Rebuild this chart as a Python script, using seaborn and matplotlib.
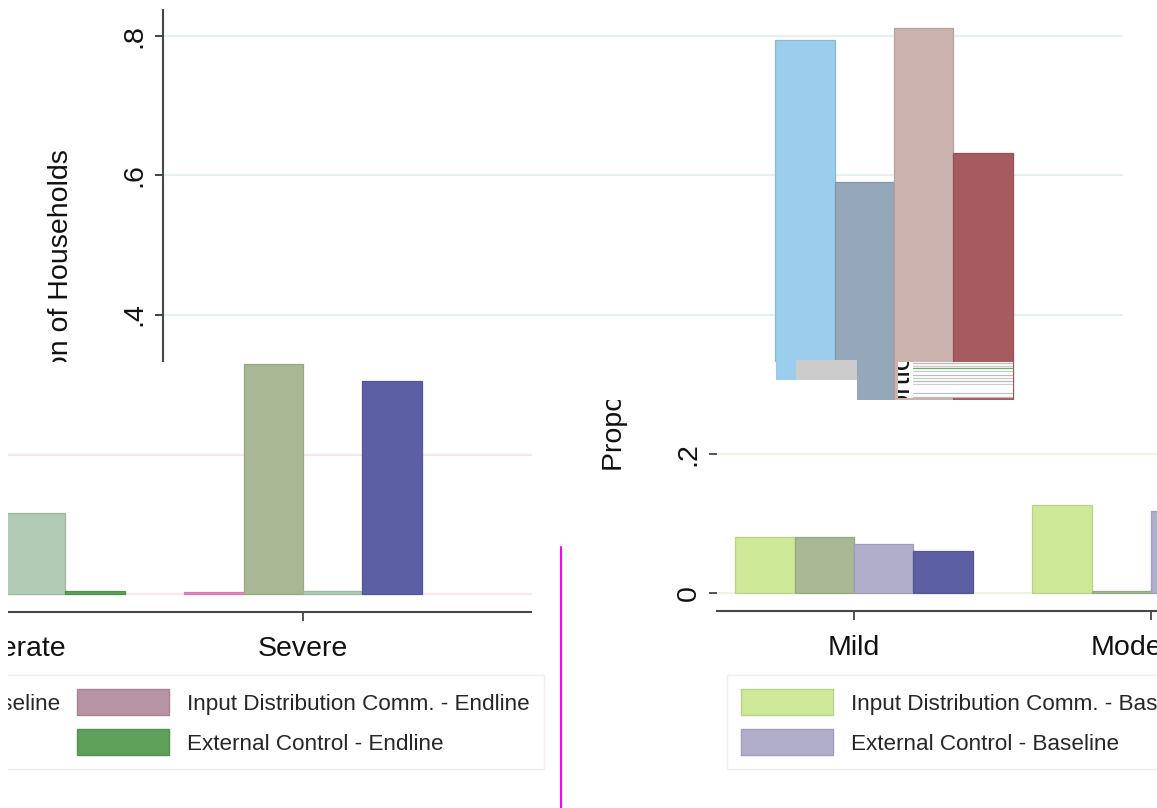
import numpy as np
import pandas as pd
import seaborn as sns
import matplotlib
matplotlib.use("Agg")
import matplotlib.pyplot as plt
import matplotlib.colors as mcolors
from matplotlib.path import Path
from matplotlib.transforms import Affine2D, Bbox, TransformedBbox
from matplotlib.patches import Patch, Rectangle
from matplotlib.lines import Line2D
from matplotlib.text import Text

sns.set_theme(style="white")
plt.rcParams["font.family"] = ["Liberation Sans", "DejaVu Sans"]

# ---------------------------------------------------------------- data
categories = ["Mild", "Moderate", "Severe"]
groups = [
    "Input Distribution Comm. - Baseline",
    "Input Distribution Comm. - Endline",
    "External Control - Baseline",
    "External Control - Endline",
]
ytick_values = [0, 0.2, 0.4, 0.6, 0.8]
ytick_labels = ["0", ".2", ".4", ".6", ".8"]
y_title = "Proportion of Households"

# upper strip
upper_cats = ["Severe", "Severe", "Severe", "Severe"]
upper_groups = groups
upper_values = [0.794, 0.590, 0.811, 0.632]
upper_palette = ["#9BCDEC", "#94A8B9", "#CBB3AF", "#A65B60"]

# lower-left strip
left_cats = ["Moderate", "Moderate", "Severe", "Severe", "Severe", "Severe"]
left_groups = [groups[2], groups[3], groups[0], groups[1], groups[2], groups[3]]
left_values = [0.117, 0.004, 0.003, 0.330, 0.004, 0.306]
left_palette = ["#EE8AC6", "#A8B894", "#B1CBB4", "#5C5FA3"]
left_legend_palette = ["#CDE997", "#B893A3", "#B1AECB", "#5FA05A"]

# lower-right strip
right_cats = ["Mild", "Mild", "Mild", "Mild", "Moderate", "Moderate", "Moderate"]
right_groups = groups + groups[:3]
right_values = [0.080, 0.081, 0.071, 0.061, 0.127, 0.003, 0.118]
right_palette = ["#CDE997", "#A8B894", "#B1AECB", "#5C5FA3"]
right_legend_palette = ["#CDE997", "#A8B894", "#B1AECB", "#5C5FA3"]

# ---------------------------------------------------------------- layout
W, H = 1157, 808
fig = plt.figure(figsize=(W / 100, H / 100), dpi=100)
fig.patch.set_facecolor("white")

# pixel (origin top-left) -> display
pix = Affine2D().scale(1 / W, -1 / H).translate(0, 1) + fig.transFigure

PLOT_W, PLOT_H = 959, 601       # plot region in pixels
CAT_STEP = 297                  # pixels between category centres
LEFT_OFF, RIGHT_OFF = 137, 228  # first/last category distance to plot edges
UNIT = 695                      # pixels per 1.0 on the value axis
ZERO_FROM_TOP = 582             # zero line distance from the plot top

BIG = 20.5
LEG = 16.2
AXIS_COL = "#474747"


def darker(c, f=0.9):
    r, g, b, a = mcolors.to_rgba(c)
    return (r * f, g * f, b * f, 1)


def stata_panel(left_px, top_px, cats, grps, vals, palette, grid_color,
                left_spine=True, legend_palette=None):
    ax = fig.add_axes([left_px / W, 1 - (top_px + PLOT_H) / H,
                       PLOT_W / W, PLOT_H / H])
    ax.set_facecolor("none")
    df = pd.DataFrame({"category": cats, "group": grps, "value": vals})
    sns.barplot(data=df, x="category", y="value", hue="group",
                order=categories, hue_order=groups, palette=palette,
                width=0.8, saturation=1, errorbar=None, legend=False,
                linewidth=0.9, ax=ax)
    for p in ax.patches:
        p.set_edgecolor(darker(p.get_facecolor()))

    ax.set_xlim(-LEFT_OFF / CAT_STEP, len(categories) - 1 + RIGHT_OFF / CAT_STEP)
    ax.set_ylim(-(PLOT_H - 1 - ZERO_FROM_TOP) / UNIT, ZERO_FROM_TOP / UNIT)

    ax.set_yticks(ytick_values, ytick_labels)
    ax.yaxis.grid(True, color=grid_color, linewidth=1.6)
    ax.xaxis.grid(False)
    ax.set_axisbelow(True)
    ax.tick_params(axis="y", length=8.5 * 0.72, width=1.3, color=AXIS_COL,
                   labelsize=BIG, labelrotation=90, pad=5, left=True,
                   labelcolor="#111111")
    for t in ax.get_yticklabels():
        t.set_va("center")
    ax.tick_params(axis="x", length=8.5 * 0.72, width=1.3, color=AXIS_COL,
                   labelsize=BIG, pad=11, bottom=True, labelcolor="#111111")

    ax.set_xlabel("")
    ax.set_ylabel(y_title, fontsize=BIG, labelpad=34, color="#111111")
    for s in ("top", "right"):
        ax.spines[s].set_visible(False)
    ax.spines["left"].set_visible(left_spine)
    for s in ("left", "bottom"):
        ax.spines[s].set_color(AXIS_COL)
        ax.spines[s].set_linewidth(1.5)

    if legend_palette is not None:
        order = [0, 2, 1, 3]
        handles = [Patch(facecolor=legend_palette[i],
                         edgecolor=darker(legend_palette[i]), linewidth=1)
                   for i in order]
        labels = [groups[i] for i in order]
        ax.legend(handles, labels, ncol=2, loc="upper left",
                  bbox_to_anchor=((left_px + 10) / W, 1 - 675 / H),
                  bbox_transform=fig.transFigure, borderaxespad=0,
                  fontsize=LEG, frameon=True, fancybox=False,
                  edgecolor="#F1EAEE", framealpha=1,
                  handlelength=4.1, handleheight=1.42, handletextpad=0.8,
                  labelspacing=0.62, columnspacing=0.72, borderpad=0.62)
    return ax


def clip_panel(ax, rect, text_rect=None, poly=None):
    x0, y0, x1, y1 = rect
    box = TransformedBbox(Bbox.from_extents(x0 / W, 1 - y1 / H, x1 / W, 1 - y0 / H),
                          fig.transFigure)
    tx0, ty0, tx1, ty1 = text_rect if text_rect else rect
    tbox = TransformedBbox(Bbox.from_extents(tx0 / W, 1 - ty1 / H, tx1 / W, 1 - ty0 / H),
                           fig.transFigure)
    renderer = fig.canvas.get_renderer()
    for art in ax.findobj(include_self=False):
        art.set_clip_on(True)
        if isinstance(art, Text):
            art.set_clip_box(tbox)
            # texts lying wholly outside their window are not drawn
            if art.get_visible() and art.get_text():
                ext = art.get_window_extent(renderer)
                if not ext.overlaps(tbox):
                    art.set_visible(False)
        else:
            art.set_clip_box(box)
            if poly is not None:
                art.set_clip_path(Path(poly), pix)


ax_top = stata_panel(163, 10, upper_cats, upper_groups, upper_values,
                     upper_palette, "#E6EFF1", left_spine=True)
ax_left = stata_panel(-428, 11, left_cats, left_groups, left_values,
                      left_palette, "#F5E6EF", left_spine=False,
                      legend_palette=left_legend_palette)
ax_right = stata_panel(717, 10, right_cats, right_groups, right_values,
                       right_palette, "#F1F1E6", left_spine=False,
                       legend_palette=right_legend_palette)

# thin near-zero bar of the last group in the left strip is green
small = min(ax_left.containers[-1], key=lambda b: b.get_height())
small.set_facecolor("#5FA05A")
small.set_edgecolor("#4F904A")

fig.canvas.draw()

top_outline = [(0, 0), (1157, 0), (1157, 362), (1016, 362), (1016, 400),
               (857, 400), (857, 380), (776, 380), (776, 362), (0, 362)]
clip_panel(ax_top, (0, 0, 1157, 400), text_rect=(0, 0, 1157, 362), poly=top_outline)
clip_panel(ax_left, (8, 362, 560, 808))
clip_panel(ax_right, (562, 400, 1157, 808))

# seams between the strips
fig.add_artist(Rectangle((796, 360), 61, 20, transform=pix,
                         facecolor="#CCCCCC", edgecolor="none", zorder=5))
fig.add_artist(Rectangle((898, 362), 115, 36, transform=pix,
                         facecolor="white", edgecolor="none", zorder=5))
for yy, col in [(363, "#BBBBBB"), (366, "#C8C8C8"), (368, "#6DAA6D"),
                (371, "#C8C8C8"), (375, "#BBBBBB"), (378, "#C8C8C8"),
                (381, "#BBBBBB"), (384, "#D0D0D0"), (393, "#C0C0C0"),
                (397, "#BBBBBB")]:
    fig.add_artist(Line2D([913, 1012], [yy, yy], transform=pix, color=col,
                          lw=0.9, zorder=6))
seam_text = fig.text(903 / W, 1 - 470 / H, y_title, rotation=90,
                     ha="center", va="bottom", fontsize=BIG, color="#111111",
                     zorder=7)
seam_text.set_clip_on(True)
seam_text.set_clip_box(TransformedBbox(
    Bbox.from_extents(898 / W, 1 - 398 / H, 913 / W, 1 - 362 / H), fig.transFigure))
fig.add_artist(Line2D([561, 561], [547, 808], transform=pix, color="#FF00FF",
                      lw=1.5, zorder=6))

fig.savefig("out.png", dpi=100, facecolor="white")
